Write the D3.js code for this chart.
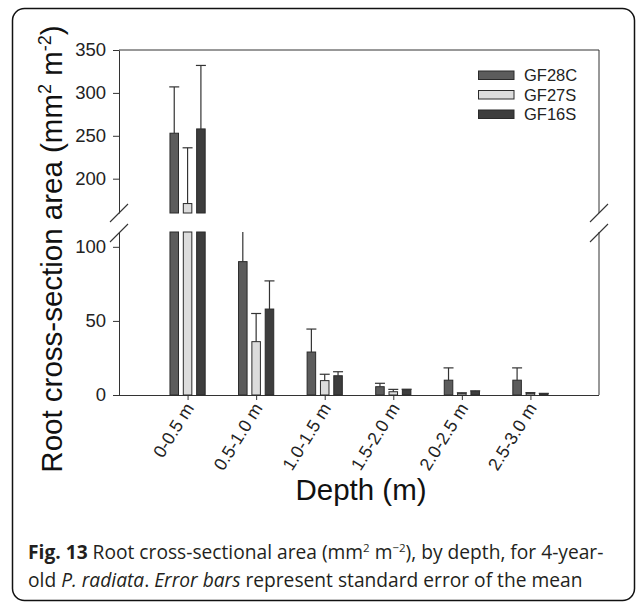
<!DOCTYPE html>
<html><head><meta charset="utf-8">
<script src="https://cdn.jsdelivr.net/npm/d3@7"></script>
<style>
body{margin:0;background:#fff;}
svg{display:block;}
</style></head>
<body><svg id="chart" width="637" height="605"></svg>
<script>
// ---- data ----
const categories = ["0-0.5 m","0.5-1.0 m","1.0-1.5 m","1.5-2.0 m","2.0-2.5 m","2.5-3.0 m"];
const seriesNames = ["GF28C","GF27S","GF16S"];
const gf28c    = [253, 90, 29, 5.6, 10, 10];
const gf28cErr = [54, 22, 15.5, 2.3, 8.3, 8.3];
const gf27s    = [171, 36, 9.7, 2.2, 1.1, 1.1];
const gf27sErr = [65, 19, 4.3, 1.6, 0.4, 0.5];
const gf16s    = [258, 58, 13, 3.6, 2.5, 0.9];
const gf16sErr = [74, 19, 2.7, 0.3, 0.3, 0.2];
const upperTicks = [200, 250, 300, 350];
const lowerTicks = [0, 50, 100];
const seriesColors = ["#5c5c5c", "#dcdcdc", "#3d3d3d"];

const values = [gf28c, gf27s, gf16s];
const errors = [gf28cErr, gf27sErr, gf16sErr];

const svg = d3.select("#chart");
const L = 119, R = 599;

// outer frame
svg.append("rect").attr("x",12.5).attr("y",8.5).attr("width",622).attr("height",592)
  .attr("rx",12).attr("fill","none").attr("stroke","#111").attr("stroke-width",1.5);

const x = d3.scalePoint().domain(categories).range([L, R]).padding(1);
const xs = d3.scaleBand().domain(seriesNames).range([-20, 20]).paddingInner(0.36).paddingOuter(0.18);

const panels = [
  {y: d3.scaleLinear().domain([160, 350]).range([213, 50]), ticks: upperTicks},
  {y: d3.scaleLinear().domain([0, 110]).range([395, 232]), ticks: lowerTicks}
];

const axisColor = "#333";
panels.forEach(p => {
  const g = svg.append("g").attr("transform",`translate(${L},0)`)
    .call(d3.axisLeft(p.y).tickValues(p.ticks).tickSize(6).tickSizeOuter(0).tickPadding(7));
  g.selectAll("path,line").attr("stroke", axisColor);
  g.selectAll("text").attr("font-family","'Liberation Sans', Arial, sans-serif")
    .attr("font-size",18.5).attr("fill","#222");
  // right axis segment
  svg.append("line").attr("x1",R).attr("x2",R).attr("y1",p.y.range()[0]).attr("y2",p.y.range()[1])
    .attr("stroke",axisColor);
});
// top line
svg.append("line").attr("x1",L).attr("x2",R).attr("y1",50).attr("y2",50).attr("stroke",axisColor);

// bottom axis
const xg = svg.append("g").attr("transform",`translate(0,395)`)
  .call(d3.axisBottom(x).tickSize(5).tickSizeOuter(0).tickFormat(""));
xg.select(".domain").attr("d",`M${L},0.5H${R}`).attr("stroke",axisColor);
xg.selectAll("line").attr("stroke",axisColor);

// x labels rotated
svg.append("g").selectAll("text").data(categories).join("text")
  .attr("transform", d => `translate(${x(d)+7},${408}) rotate(-58)`)
  .attr("text-anchor","end")
  .attr("font-family","'Liberation Sans', Arial, sans-serif")
  .attr("font-size",17.8).attr("fill","#222")
  .text(d => d);

// break marks
[L, R].forEach(xx => {
  [213, 233].forEach(yy => {
    svg.append("line").attr("x1",xx-9).attr("y1",yy+9).attr("x2",xx+9).attr("y2",yy-9)
      .attr("stroke",axisColor).attr("stroke-width",1.1);
  });
});

// bars and error bars
const barG = svg.append("g");
seriesNames.forEach((s, si) => {
  categories.forEach((c, ci) => {
    const v = values[si][ci], e = errors[si][ci];
    const bx = x(c) + xs(s);
    const bw = xs.bandwidth();
    panels.forEach(p => {
      const [d0, d1] = p.y.domain();
      if (v > d0) {
        const top = Math.min(v, d1);
        barG.append("rect").attr("x",bx).attr("width",bw)
          .attr("y",p.y(top)).attr("height",p.y(d0)-p.y(top))
          .attr("fill",seriesColors[si]).attr("stroke","#2a2a2a").attr("stroke-width",1);
      }
      const lo = Math.max(v, d0), hi = Math.min(v + e, d1);
      if (hi > lo) {
        const cx = bx + bw/2;
        barG.append("line").attr("x1",cx).attr("x2",cx).attr("y1",p.y(lo)).attr("y2",p.y(hi))
          .attr("stroke","#333").attr("stroke-width",1.2);
        if (v + e <= d1) {
          barG.append("line").attr("x1",cx-5).attr("x2",cx+5).attr("y1",p.y(v+e)).attr("y2",p.y(v+e))
            .attr("stroke","#333").attr("stroke-width",1.2);
        }
      }
    });
  });
});

// legend
const lg = svg.append("g");
seriesNames.forEach((s, i) => {
  const yy = 71 + i*19.5;
  lg.append("rect").attr("x",478.5).attr("y",yy).attr("width",35.5).attr("height",8.5)
    .attr("fill",seriesColors[i]).attr("stroke","#2a2a2a").attr("stroke-width",1);
  lg.append("text").attr("x",524).attr("y",yy+4.5).attr("dy","0.35em")
    .attr("font-family","'Liberation Sans', Arial, sans-serif").attr("font-size",16.5).attr("fill","#222")
    .text(s);
});

// y title
const yt = svg.append("text")
  .attr("transform","translate(62,249) rotate(-90)")
  .attr("text-anchor","middle")
  .attr("font-family","'Liberation Sans', Arial, sans-serif").attr("font-size",29.5).attr("fill","#111");
yt.append("tspan").text("Root cross-section area (mm");
yt.append("tspan").attr("dy",-11).attr("font-size",18).text("2");
yt.append("tspan").attr("dy",11).text(" m");
yt.append("tspan").attr("dy",-11).attr("font-size",18).text("-2");
yt.append("tspan").attr("dy",11).text(")");

// x title
svg.append("text").attr("x",361).attr("y",500).attr("text-anchor","middle")
  .attr("font-family","'Liberation Sans', Arial, sans-serif").attr("font-size",29.5).attr("fill","#111")
  .text("Depth (m)");

// caption
const capFont = "'Open Sans', 'Noto Sans', sans-serif";
const c1 = svg.append("text").attr("x",28).attr("y",559)
  .attr("font-family",capFont).attr("font-size",19.2).attr("fill","#231f20");
c1.append("tspan").attr("font-weight","bold").text("Fig. 13");
c1.append("tspan").text(" Root cross-sectional area (mm");
c1.append("tspan").attr("dy",-7).attr("font-size",11.5).text("2");
c1.append("tspan").attr("dy",7).text(" m");
c1.append("tspan").attr("dy",-7).attr("font-size",11.5).text("\u22122");
c1.append("tspan").attr("dy",7).text("), by depth, for 4-year-");
const c2 = svg.append("text").attr("x",28).attr("y",587)
  .attr("font-family",capFont).attr("font-size",19.2).attr("fill","#231f20");
c2.append("tspan").text("old ");
c2.append("tspan").attr("font-style","italic").text("P. radiata");
c2.append("tspan").text(". ");
c2.append("tspan").attr("font-style","italic").text("Error bars");
c2.append("tspan").text(" represent standard error of the mean");
</script>
</body></html>
